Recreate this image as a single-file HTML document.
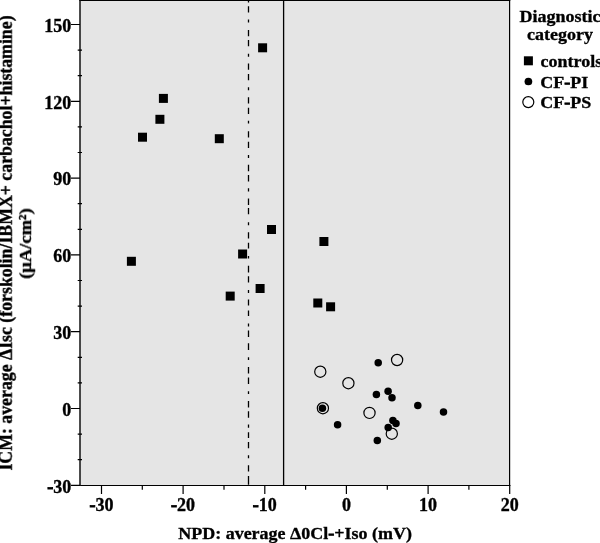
<!DOCTYPE html>
<html><head><meta charset="utf-8">
<style>
html,body{margin:0;padding:0;background:#fff;width:600px;height:543px;overflow:hidden}
svg{display:block}
text{font-family:"Liberation Serif",serif;font-weight:bold;fill:#000;stroke:#000;stroke-width:0.35px;will-change:transform}
</style></head><body>
<svg width="600" height="543" viewBox="0 0 600 543">
<!-- plot area -->
<rect x="80" y="0.5" width="429.5" height="484.6" fill="#e5e5e5"/>
<!-- reference lines -->
<path d="M248.5 0V2.6M248.5 6.3V12.5M248.5 19.5V22.5M248.5 30.0V36.3M248.5 40.0V46.2M248.5 53.8V56.7M248.5 63.5V69.7M248.5 74.0V80.2M248.5 87.2V90.2M248.5 97.2V103.4M248.5 107.7V113.9M248.5 120.7V123.6M248.5 131.2V137.4M248.5 141.7V147.9M248.5 155.0V157.9M248.5 164.8V171.3M248.5 174.9V181.4M248.5 188.3V191.6M248.5 198.4V204.9M248.5 207.9V214.2M248.5 222.3V225.2M248.5 232.2V238.5M248.5 242.7V248.4M248.5 256.0V258.4M248.5 265.7V272.5M248.5 276.2V282.4M248.5 290.0V292.9M248.5 299.4V305.6M248.5 310.4V315.9M248.5 323.5V326.4M248.5 330.6V336.9M248.5 343.3V350.1M248.5 357.2V360.1M248.5 367.1V373.6M248.5 377.5V384.0M248.5 391.3V394.1M248.5 400.9V407.5M248.5 411.3V417.8M248.5 424.4V427.8M248.5 432.2V438.0M248.5 442.0V448.2M248.5 455.2V458.3M248.5 465.2V471.5M248.5 476.1V484.8" stroke="#000" stroke-width="1.3" fill="none"/>
<line x1="283.6" y1="0" x2="283.6" y2="485" stroke="#000" stroke-width="1.3"/>
<!-- frame -->
<path d="M79.3 0.5H510.3" stroke="#000" stroke-width="1.1"/>
<path d="M509.6 0V486" stroke="#000" stroke-width="1.2"/>
<path d="M79.3 485.45H510.3" stroke="#000" stroke-width="1.1"/>
<path d="M80 0V486" stroke="#111" stroke-width="1.5"/>
<!-- y ticks -->
<g stroke="#000" stroke-width="1.2">
<path d="M71 24.5H80M71 101.3H80M71 178.1H80M71 254.9H80M71 331.7H80M71 408.5H80M71 485.45H80"/>
<path d="M77.7 50.1H82M77.7 75.7H82M77.7 126.9H82M77.7 152.5H82M77.7 203.7H82M77.7 229.3H82M77.7 280.5H82M77.7 306.1H82M77.7 357.3H82M77.7 382.9H82M77.7 434.1H82M77.7 459.7H82"/>
<!-- x ticks -->
<path d="M101.5 485V494M183.1 485V494M264.8 485V494M346.4 485V494M428.1 485V494M509.7 485V494"/>
<path d="M142.3 485V489.8M224 485V489.8M305.6 485V489.8M387.3 485V489.8M468.9 485V489.8"/>
</g>
<!-- y tick labels -->
<g font-size="18" text-anchor="end">
<text x="71.2" y="31.8">150</text>
<text x="71.2" y="108.6">120</text>
<text x="71.2" y="185.4">90</text>
<text x="71.2" y="262.2">60</text>
<text x="71.2" y="339">30</text>
<text x="71.2" y="415.8">0</text>
<text x="71.2" y="492.6"><tspan style="stroke-width:0.9px">-</tspan>30</text>
</g>
<!-- x tick labels -->
<g font-size="18" text-anchor="middle">
<text x="101.5" y="510.5"><tspan style="stroke-width:0.9px">-</tspan>30</text>
<text x="183.1" y="510.5"><tspan style="stroke-width:0.9px">-</tspan>20</text>
<text x="264.8" y="510.5"><tspan style="stroke-width:0.9px">-</tspan>10</text>
<text x="346.4" y="510.5">0</text>
<text x="428.1" y="510.5">10</text>
<text x="509.7" y="510.5">20</text>
</g>
<!-- axis titles -->
<text transform="translate(295.1,539.1) scale(1,0.965)" font-size="18" text-anchor="middle">NPD: average Δ0Cl<tspan style="stroke-width:0.9px">-</tspan>+Iso (mV)</text>
<g transform="translate(11.8,243) rotate(-90)" font-size="17.8" text-anchor="middle">
<text x="0" y="0">ICM: average ΔIsc (forskolin/IBMX+ carbachol+histamine)</text>
</g>
<g transform="translate(30.8,243.6) rotate(-90) scale(1,0.93)" font-size="18.5" text-anchor="middle">
<text x="0" y="0">(µA/cm²)</text>
</g>
<!-- legend -->
<g font-size="18">
<text transform="translate(560,22.2) scale(1,0.93)" text-anchor="middle">Diagnostic</text>
<text transform="translate(560,40.2) scale(1,0.93)" text-anchor="middle">category</text>
<text transform="translate(540.5,67.3) scale(1,0.93)">controls</text>
<text transform="translate(540.2,88) scale(1,0.93)">CF<tspan style="stroke-width:0.9px">-</tspan>PI</text>
<text transform="translate(540.2,108.4) scale(1,0.93)">CF<tspan style="stroke-width:0.9px">-</tspan>PS</text>
</g>
<rect x="523.9" y="56.3" width="9" height="9" fill="#000"/>
<circle cx="528.4" cy="81.5" r="3.85" fill="#000"/>
<circle cx="528.3" cy="102.1" r="5.5" fill="none" stroke="#000" stroke-width="1.2"/>
<!-- squares: controls -->
<g fill="#000">
<rect x="258.1" y="43.3" width="9" height="9"/>
<rect x="158.9" y="93.9" width="9" height="9"/>
<rect x="155.4" y="114.8" width="9" height="9"/>
<rect x="138" y="132.7" width="9" height="9"/>
<rect x="214.8" y="134.2" width="9" height="9"/>
<rect x="267" y="225" width="9" height="9"/>
<rect x="319.4" y="237" width="9" height="9"/>
<rect x="238.1" y="249.5" width="9" height="9"/>
<rect x="126.9" y="256.8" width="9" height="9"/>
<rect x="255.6" y="284" width="9" height="9"/>
<rect x="225.7" y="291.6" width="9" height="9"/>
<rect x="313.3" y="298.5" width="9" height="9"/>
<rect x="326.1" y="302.3" width="9" height="9"/>
</g>
<!-- open circles: CF-PS -->
<g fill="none" stroke="#000" stroke-width="1.2">
<circle cx="320.3" cy="371.7" r="5.6"/>
<circle cx="348.4" cy="383.2" r="5.6"/>
<circle cx="397.1" cy="360" r="5.6"/>
<circle cx="322.9" cy="408.2" r="5.6"/>
<circle cx="369.5" cy="412.9" r="5.6"/>
<circle cx="391.8" cy="433.7" r="5.6"/>
</g>
<!-- filled circles: CF-PI -->
<g fill="#000">
<circle cx="378.2" cy="362.7" r="3.75"/>
<circle cx="376.4" cy="394.5" r="3.75"/>
<circle cx="388.1" cy="391.2" r="3.75"/>
<circle cx="392" cy="397.8" r="3.75"/>
<circle cx="417.8" cy="405.5" r="3.75"/>
<circle cx="443.5" cy="412" r="3.75"/>
<circle cx="322.4" cy="408.3" r="3.75"/>
<circle cx="337.6" cy="424.7" r="3.75"/>
<circle cx="392.9" cy="420.5" r="3.75"/>
<circle cx="396" cy="423.6" r="3.75"/>
<circle cx="388.2" cy="427.4" r="3.75"/>
<circle cx="377.3" cy="440.4" r="3.75"/>
</g>
</svg>
</body></html>
